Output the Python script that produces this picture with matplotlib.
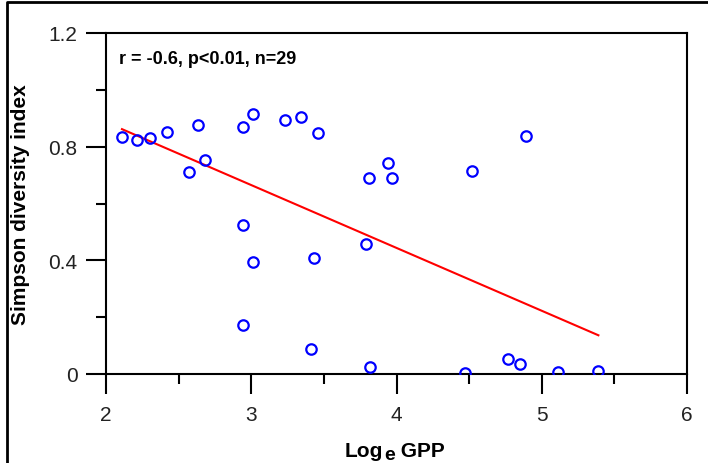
import matplotlib
matplotlib.use("Agg")
import matplotlib.pyplot as plt
from matplotlib.lines import Line2D
from matplotlib.ticker import MultipleLocator
import numpy as np

plt.rcParams['font.family'] = ['Liberation Sans', 'DejaVu Sans']

# Log_e GPP vs Simpson diversity index
log_gpp = [2.11, 2.21, 2.30, 2.42, 2.63, 2.57, 2.68, 2.94, 3.01, 3.23,
           3.34, 3.46, 2.94, 4.89, 3.94, 3.81, 3.97, 4.52, 3.01, 3.43,
           2.94, 3.41, 3.79, 3.82, 4.47, 4.77, 4.85, 5.11, 5.39]
simpson = [0.835, 0.822, 0.830, 0.852, 0.876, 0.712, 0.754, 0.869, 0.916, 0.895,
           0.905, 0.848, 0.524, 0.839, 0.741, 0.690, 0.690, 0.715, 0.395, 0.409,
           0.174, 0.088, 0.459, 0.025, 0.003, 0.053, 0.035, 0.007, 0.011]
stats_text = "r = -0.6, p<0.01, n=29"

x = np.array(log_gpp)
y = np.array(simpson)
slope, intercept = np.polyfit(x, y, 1)
xfit = np.array([x.min(), x.max()])

fig = plt.figure(figsize=(7.08, 4.64), dpi=100)
ax = fig.add_axes([106/708, 1 - 375/464, 581/708, 341/464])

ax.plot(xfit, intercept + slope * xfit, color='#ff0000', lw=1.5, zorder=2)
ax.plot(x, y, 'o', ms=7.5, mfc='none', mec='#0000ff', mew=1.6, zorder=3)

ax.set_xlim(2, 6)
ax.set_ylim(0, 1.2)
ax.xaxis.set_major_locator(MultipleLocator(1))
ax.xaxis.set_minor_locator(MultipleLocator(0.5))
ax.yaxis.set_major_locator(MultipleLocator(0.4))
ax.yaxis.set_minor_locator(MultipleLocator(0.2))
ax.yaxis.set_major_formatter(plt.FuncFormatter(lambda v, p: '0' if v == 0 else f'{v:.1f}'))

for s in ax.spines.values():
    s.set_linewidth(1.5)
ax.tick_params(which='major', direction='out', length=14.5, width=1.5,
               labelsize=15, labelcolor='#222222')
ax.tick_params(which='minor', direction='out', length=7.2, width=1.5)
ax.tick_params(axis='x', which='major', pad=8)
ax.tick_params(axis='y', which='major', pad=6)

ax.text(13/581, 1 - 26/341, stats_text, transform=ax.transAxes,
        fontsize=13, fontweight='bold', ha='left', va='center')

fig.text(21/708, 1 - 205/464, 'Simpson diversity index', rotation=90,
         fontsize=15, fontweight='bold', ha='center', va='center')

# x label: "Log" + subscript e + " GPP"
t_log = fig.text(345/708, 1 - 461/464, 'Log', fontsize=15, fontweight='bold',
                 ha='left', va='bottom')
t_e = ax.annotate('e', xy=(1, 0), xycoords=t_log, xytext=(0.3, -2.2),
                  textcoords='offset points', fontsize=14, fontweight='bold',
                  ha='left', va='bottom', annotation_clip=False)
ax.annotate(' GPP', xy=(1, 0), xycoords=(t_e, t_log), fontsize=15,
            fontweight='bold', ha='left', va='bottom', annotation_clip=False)

# frame around the figure (left and top edges show)
fig.add_artist(Line2D([7/708, 7/708, 1.0], [0.0, 1 - 3/464, 1 - 3/464],
                      transform=fig.transFigure, color='black', lw=2.0))

fig.savefig('out.png', dpi=100)
